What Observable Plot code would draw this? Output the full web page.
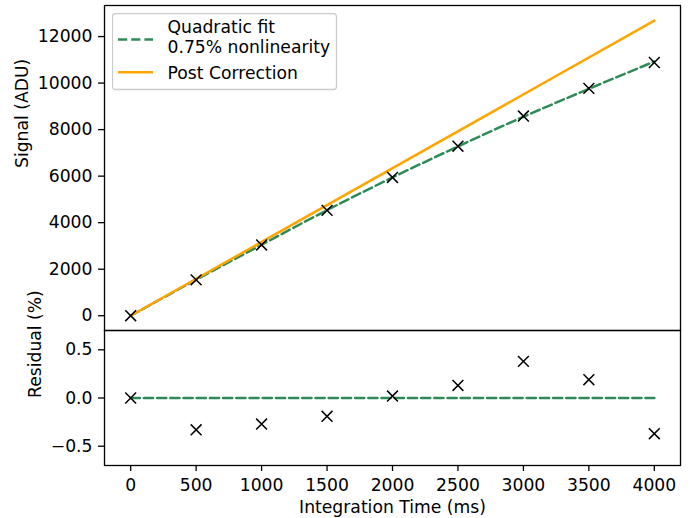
<!DOCTYPE html>
<html>
<head>
<meta charset="utf-8">
<script src="https://cdn.jsdelivr.net/npm/d3@7"></script>
<script src="https://cdn.jsdelivr.net/npm/@observablehq/plot@0.6"></script>
<style>
  html, body { margin: 0; padding: 0; background: white; }
  #chart { position: relative; width: 692px; height: 518px; font-family: "DejaVu Sans", sans-serif; }
  #chart > svg, #chart > div { position: absolute; }
</style>
</head>
<body>
<div id="chart"></div>
<script>
// ---- data ----
const times = [0, 500, 1000, 1500, 2000, 2500, 3000, 3500, 4000];
const signal = [0, 1543, 3043, 4530, 5944, 7286, 8584, 9771, 10885];
const fitSignal = [0, 1548, 3051, 4539, 5943, 7276, 8551, 9753, 10925];
const correctedTimes = [0, 4000];
const correctedSignal = [0, 12685];
const residual = [0.0, -0.33, -0.27, -0.19, 0.02, 0.13, 0.38, 0.19, -0.37];
const residualFitTimes = [0, 4000];
const residualFit = [0, 0];
const xTicks = [0, 500, 1000, 1500, 2000, 2500, 3000, 3500, 4000];
const signalTicks = [0, 2000, 4000, 6000, 8000, 10000, 12000];
const residualTicks = [-0.5, 0.0, 0.5];
const legendLabels = [["Quadratic fit", "0.75% nonlinearity"], ["Post Correction"]];

const green = "#2e8b57";
const orange = "#ffa500";
const fs = 17.2;

const pts = times.map((t, i) => ({t, s: signal[i], f: fitSignal[i], r: residual[i]}));
const corr = correctedTimes.map((t, i) => ({t, s: correctedSignal[i]}));
const rfit = residualFitTimes.map((t, i) => ({t, r: residualFit[i]}));

const plotStyle = {fontFamily: "DejaVu Sans", fontSize: fs + "px", background: "transparent", color: "black", overflow: "visible"};

const topPanel = Plot.plot({
  width: 692, height: 331,
  marginTop: 5, marginBottom: 1, marginLeft: 104, marginRight: 12,
  style: plotStyle,
  x: {domain: [-200, 4200], axis: null},
  y: {domain: [-635, 13335], axis: null},
  marks: [
    Plot.axisY({ticks: signalTicks, tickSize: 6, tickPadding: 6, tickFormat: d3.format("d"), label: null, strokeWidth: 1.3, fontSize: fs}),
    Plot.line(pts, {x: "t", y: "f", stroke: green, strokeWidth: 2.5, strokeDasharray: "9.2,4", curve: "monotone-x"}),
    Plot.line(corr, {x: "t", y: "s", stroke: orange, strokeWidth: 2.5}),
    Plot.dot(pts, {x: "t", y: "s", symbol: "times", r: 5, stroke: "black", strokeWidth: 1.5}),
    Plot.frame({stroke: "black", strokeWidth: 1.3}),
    Plot.text(["Signal (ADU)"], {frameAnchor: "left", dx: -82, rotate: -90, fontSize: fs, fill: "black"})
  ]
});
topPanel.style.left = "0px"; topPanel.style.top = "0px";

const bottomPanel = Plot.plot({
  width: 692, height: 189,
  marginTop: 1, marginBottom: 53, marginLeft: 104, marginRight: 12,
  style: plotStyle,
  x: {domain: [-200, 4200], axis: null},
  y: {domain: [-0.7, 0.7], axis: null},
  marks: [
    Plot.axisX({ticks: xTicks, tickSize: 6, tickPadding: 7, tickFormat: d3.format("d"), label: null, strokeWidth: 1.3, fontSize: fs}),
    Plot.axisY({ticks: residualTicks, tickSize: 6, tickPadding: 6, tickFormat: d3.format(".1f"), label: null, strokeWidth: 1.3, fontSize: fs}),
    Plot.line(rfit, {x: "t", y: "r", stroke: green, strokeWidth: 2.5, strokeDasharray: "9.2,4"}),
    Plot.dot(pts, {x: "t", y: "r", symbol: "times", r: 5, stroke: "black", strokeWidth: 1.5}),
    Plot.frame({stroke: "black", strokeWidth: 1.3}),
    Plot.text(["Residual (%)"], {frameAnchor: "left", dx: -69, rotate: -90, fontSize: fs, fill: "black"}),
    Plot.text(["Integration Time (ms)"], {frameAnchor: "bottom", dy: 42, lineAnchor: "middle", fontSize: fs, fill: "black"})
  ]
});
bottomPanel.style.left = "0px"; bottomPanel.style.top = "329px";

const chart = document.getElementById("chart");
chart.appendChild(topPanel);
chart.appendChild(bottomPanel);

// ---- legend (inside upper axes) ----
const lg = d3.create("svg").attr("width", 226).attr("height", 78)
  .style("left", "112px").style("top", "12.5px");
lg.append("rect").attr("x", 0.5).attr("y", 0.5).attr("width", 224).attr("height", 76)
  .attr("rx", 3).attr("fill", "white").attr("fill-opacity", 0.8).attr("stroke", "#cccccc").attr("stroke-width", 1.3);
lg.append("line").attr("x1", 6).attr("x2", 41).attr("y1", 26.5).attr("y2", 26.5)
  .attr("stroke", green).attr("stroke-width", 2.5).attr("stroke-dasharray", "9.2,4");
lg.append("line").attr("x1", 6).attr("x2", 41).attr("y1", 59.2).attr("y2", 59.2)
  .attr("stroke", orange).attr("stroke-width", 2.5);
const t1 = lg.append("text").attr("x", 55.5).attr("font-family", "DejaVu Sans").attr("font-size", fs).attr("fill", "black");
legendLabels[0].forEach((s, i) => t1.append("tspan").attr("x", 55.5).attr("y", 20 + i * 20).text(s));
lg.append("text").attr("x", 55.5).attr("y", 65.5).attr("font-family", "DejaVu Sans").attr("font-size", fs).attr("fill", "black").text(legendLabels[1][0]);
chart.appendChild(lg.node());
</script>
</body>
</html>
